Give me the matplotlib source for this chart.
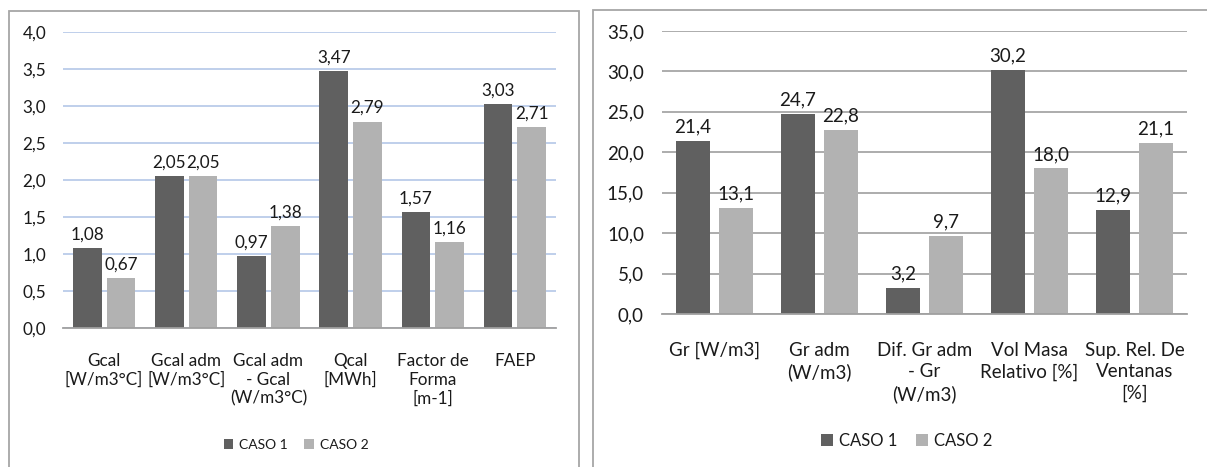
import matplotlib.pyplot as plt
import numpy as np
from matplotlib.patches import Rectangle

plt.rcParams['font.family'] = ['Lato', 'DejaVu Sans']

# Left chart data
cats_a = ["Gcal\n[W/m3°C]", "Gcal adm\n[W/m3°C]", "Gcal adm\n- Gcal\n(W/m3°C)",
          "Qcal\n[MWh]", "Factor de\nForma\n[m-1]", "FAEP"]
caso1_a = [1.08, 2.05, 0.97, 3.47, 1.57, 3.03]
caso2_a = [0.67, 2.05, 1.38, 2.79, 1.16, 2.71]

# Right chart data
cats_b = ["Gr [W/m3]", "Gr adm\n(W/m3)", "Dif. Gr adm\n- Gr\n(W/m3)",
          "Vol Masa\nRelativo [%]", "Sup. Rel. De\nVentanas\n[%]"]
caso1_b = [21.4, 24.7, 3.2, 30.2, 12.9]
caso2_b = [13.1, 22.8, 9.7, 18.0, 21.1]

series_names = ["CASO 1", "CASO 2"]

W, H = 1207, 467
fig = plt.figure(figsize=(W / 100, H / 100), dpi=100)

dark = '#606060'
light = '#b2b2b2'
txt = '#1a1a1a'


def px_axes(x0, y0, x1, y1):
    # pixel box (top-left origin) -> figure fraction
    return fig.add_axes([x0 / W, 1 - y1 / H, (x1 - x0) / W, (y1 - y0) / H])


# panel frames
for x0, y0, x1, y1 in [(9, 11, 579, 470), (593, 10, 1212, 470)]:
    fig.patches.append(Rectangle((x0 / W, 1 - y1 / H), (x1 - x0) / W, (y1 - y0) / H,
                                 transform=fig.transFigure, fill=False,
                                 edgecolor='#a6a6a6', linewidth=1.3))


def draw(ax, cats, v1, v2, ymax, step, width, gap, fmt, fs, grid_color, grid_lw, lab_pad, x_pad, lab_ls):
    x = np.arange(len(cats))
    off = (width + gap) / 2
    b1 = ax.bar(x - off, v1, width, color=dark, zorder=3, label=series_names[0])
    b2 = ax.bar(x + off, v2, width, color=light, zorder=3, label=series_names[1])
    for bars, vals in [(b1, v1), (b2, v2)]:
        for b, v in zip(bars, vals):
            ax.annotate(fmt.format(v).replace('.', ','),
                        (b.get_x() + b.get_width() / 2, v),
                        xytext=(0, 4), textcoords='offset points',
                        ha='center', va='bottom', fontsize=fs, color=txt)
    ax.set_xlim(-0.5, len(cats) - 0.5)
    ax.set_ylim(0, ymax)
    ticks = np.arange(0, ymax + step / 2, step)
    ax.set_yticks(ticks)
    ax.set_yticklabels([f"{t:.1f}".replace('.', ',') for t in ticks], fontsize=fs, color=txt)
    ax.set_xticks(x)
    ax.set_xticklabels(cats, fontsize=fs, color=txt, linespacing=lab_ls)
    ax.tick_params(axis='y', length=0, pad=lab_pad)
    ax.tick_params(axis='x', length=0, pad=x_pad)
    ax.grid(axis='y', color=grid_color, linewidth=grid_lw, zorder=0)
    for s in ['top', 'right', 'left']:
        ax.spines[s].set_visible(False)
    ax.spines['bottom'].set_color('#a0a0a0')
    ax.spines['bottom'].set_linewidth(1.3)
    ax.spines['bottom'].set_zorder(4)
    ax.patch.set_alpha(0)


ax1 = px_axes(63, 32, 556, 328)
draw(ax1, cats_a, caso1_a, caso2_a, 4.0, 0.5, 0.35, 0.06, "{:.2f}", 12.3,
     '#b4c7e7', 1.2, 12, 18, 1.22)
ax1.legend(loc='center', bbox_to_anchor=(296 / W, 1 - 445 / H),
           bbox_transform=fig.transFigure, ncol=2, frameon=False,
           fontsize=10, handlelength=0.7, handleheight=0.7,
           handletextpad=0.4, columnspacing=1.2, labelcolor=txt)

ax2 = px_axes(662, 31, 1187, 314)
draw(ax2, cats_b, caso1_b, caso2_b, 35.0, 5.0, 0.33, 0.08, "{:.1f}", 13.5,
     '#a6a6a6', 1.3, 13, 20, 1.32)
ax2.legend(loc='center', bbox_to_anchor=(907 / W, 1 - 441 / H),
           bbox_transform=fig.transFigure, ncol=2, frameon=False,
           fontsize=12, handlelength=0.7, handleheight=0.7,
           handletextpad=0.4, columnspacing=1.1, labelcolor=txt)

fig.savefig('out.png', dpi=100)
